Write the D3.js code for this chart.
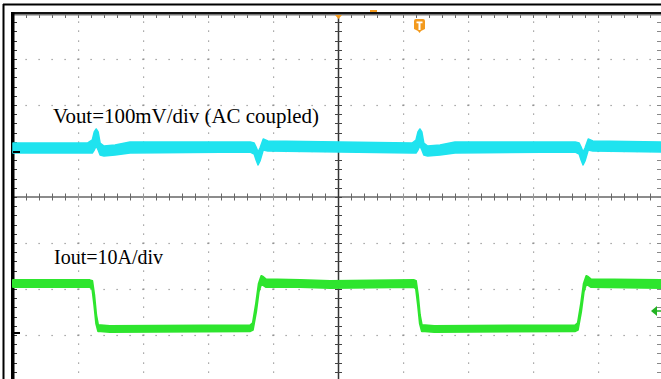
<!DOCTYPE html>
<html><head><meta charset="utf-8">
<script src="https://cdn.jsdelivr.net/npm/d3@7"></script>
<style>html,body{margin:0;padding:0;background:#fff;overflow:hidden}</style>
</head><body>
<svg id="c" width="661" height="379"></svg>
<script>
// ---- data (time in divisions, Vout in mV, Iout in A) ----
const voutTime = [0,1.15,1.22,1.25,1.28,1.31,1.34,1.40,1.57,1.80,3.65,3.71,3.74,3.77,3.80,3.85,3.92,5.03,6.14,6.20,6.23,6.26,6.29,6.32,6.38,6.57,6.80,8.65,8.71,8.74,8.77,8.80,8.85,8.92,9.97];
const voutHigh = [19.6,19.6,26.1,43.5,50.0,43.5,19.6,13.0,15.2,21.7,21.7,19.6,10.9,0,8.7,28.3,23.9,21.7,19.6,26.1,43.5,50.0,43.5,19.6,13.0,15.2,21.7,21.7,19.6,10.9,0,8.7,28.3,23.9,21.7];
const voutLow  = [-2.2,-2.2,-2.2,4.3,13.0,4.3,-6.5,-8.7,-6.5,-2.2,0,-4.3,-17.4,-28.3,-19.6,4.3,2.2,0,-2.2,-2.2,4.3,13.0,4.3,-6.5,-8.7,-6.5,-2.2,0,-4.3,-17.4,-28.3,-19.6,4.3,2.2,0];

const ioutTime = [0,1.18,1.22,1.25,1.28,1.31,1.35,1.49,3.65,3.69,3.74,3.78,3.82,3.85,3.89,4.42,4.88,6.17,6.20,6.23,6.26,6.29,6.34,6.48,8.65,8.69,8.74,8.78,8.82,8.85,8.89,9.97];
const ioutHigh = [11.5,11.5,11.3,8.3,3.9,1.7,1.7,1.5,1.7,2.2,6.5,10.7,12.4,12.2,11.7,11.5,11.3,11.5,11.3,8.3,3.9,1.7,1.7,1.5,1.7,2.2,6.5,10.7,12.4,12.2,11.7,11.5];
const ioutLow  = [10.0,10.0,9.6,6.1,2.0,0.4,0.4,0.2,0.4,0.7,4.6,8.9,10.7,10.4,10.0,10.0,9.8,10.0,9.6,6.1,2.0,0.4,0.4,0.2,0.4,0.7,4.6,8.9,10.7,10.4,10.0,9.8];

const traceLabels = ["Vout=100mV/div (AC coupled)", "Iout=10A/div"];
const xDivs = 10, yDivs = 8;

// ---- layout ----
const svg = d3.select("#c");
const L = 13, T = 13, DX = 65, DY = 46;
const x = d3.scaleLinear().domain([0, xDivs]).range([L, L + DX * xDivs]);
const yDiv = d3.scaleLinear().domain([yDivs / 2, -yDivs / 2]).range([T, T + DY * yDivs]);
const yV = d3.scaleLinear().domain([0, 100]).range([152, 152 - DY]);
const yI = d3.scaleLinear().domain([0, 10]).range([333, 333 - DY]);

// outer frame
svg.append("line").attr("x1", 3).attr("x2", 661).attr("y1", 4.5).attr("y2", 4.5).attr("stroke", "#000").attr("stroke-width", 2);
svg.append("line").attr("x1", 3.5).attr("x2", 3.5).attr("y1", 4).attr("y2", 379).attr("stroke", "#000").attr("stroke-width", 2);

const g = svg.append("g");
const grid = g.append("g");
const cx = x(xDivs / 2), cy = yDiv(0);

// dotted vertical grid lines
d3.range(1, xDivs + 1).forEach(i => {
  if (i === xDivs / 2) return;
  const px = Math.round(x(i)) + 0.5;
  d3.range(1, yDivs * 5).forEach(j => {
    const py = yDiv(yDivs / 2 - j / 5);
    const major = j % 5 === 0;
    grid.append("rect").attr("x", px - (major ? 1 : 0.5)).attr("y", Math.round(py) - 0.5)
      .attr("width", major ? 2 : 1.2).attr("height", 1.2).attr("fill", "#8a8a8a");
  });
});
// dotted horizontal grid lines
d3.range(1, yDivs).forEach(j => {
  if (j === yDivs / 2) return;
  const py = Math.round(yDiv(yDivs / 2 - j)) + 0.5;
  d3.range(1, xDivs * 5).forEach(i => {
    const px = x(i / 5);
    grid.append("rect").attr("x", Math.round(px) - 0.5).attr("y", py - 0.6)
      .attr("width", 1.2).attr("height", 1.2).attr("fill", "#8a8a8a");
  });
});
// center horizontal axis
grid.append("line").attr("x1", L).attr("x2", 661).attr("y1", cy).attr("y2", cy).attr("stroke", "#8c8c8c").attr("stroke-width", 2);
d3.range(1, xDivs * 5).forEach(i => {
  const px = Math.round(x(i / 5)) + 0.5;
  grid.append("line").attr("x1", px).attr("x2", px).attr("y1", cy - 3.5).attr("y2", cy + 3.5)
    .attr("stroke", i % 5 === 0 ? "#999" : "#666").attr("stroke-width", 1);
});
// center vertical axis
grid.append("line").attr("x1", cx + 0.5).attr("x2", cx + 0.5).attr("y1", T).attr("y2", 379).attr("stroke", "#333").attr("stroke-width", 1.5);
d3.range(1, yDivs * 5).forEach(j => {
  const py = Math.round(yDiv(yDivs / 2 - j / 5)) + 0.5;
  grid.append("line").attr("x1", cx - 3).attr("x2", cx + 4).attr("y1", py).attr("y2", py)
    .attr("stroke", "#444").attr("stroke-width", 1);
});
// left border ticks and right edge ticks
d3.range(1, yDivs * 5).forEach(j => {
  const py = Math.round(yDiv(yDivs / 2 - j / 5)) + 0.5;
  grid.append("line").attr("x1", L).attr("x2", L + 4).attr("y1", py).attr("y2", py).attr("stroke", "#333").attr("stroke-width", 1);
  grid.append("line").attr("x1", 657).attr("x2", 661).attr("y1", py).attr("y2", py).attr("stroke", "#888").attr("stroke-width", 1);
});
// top border ticks
d3.range(1, xDivs * 5).forEach(i => {
  const px = Math.round(x(i / 5)) + 0.5;
  grid.append("line").attr("x1", px).attr("x2", px).attr("y1", T + 2).attr("y2", T + 5).attr("stroke", "#666").attr("stroke-width", 1);
});

// plot borders
g.append("rect").attr("x", 11).attr("y", 12).attr("width", 650).attr("height", 2).attr("fill", "#111");
g.append("rect").attr("x", 11).attr("y", 14).attr("width", 650).attr("height", 1.5).attr("fill", "#777");
g.append("rect").attr("x", 11).attr("y", 12).attr("width", 3.5).attr("height", 367).attr("fill", "#000");

// traces
const vArea = d3.area().x((d, i) => x(voutTime[i])).y0((d, i) => yV(voutLow[i])).y1((d, i) => yV(voutHigh[i])).curve(d3.curveLinear);
g.append("path").attr("d", vArea(voutTime)).attr("fill", "#1fe3ef").attr("stroke", "#1fe3ef").attr("stroke-width", 1.5).attr("stroke-linejoin", "round");
const iArea = d3.area().x((d, i) => x(ioutTime[i])).y0((d, i) => yI(ioutLow[i])).y1((d, i) => yI(ioutHigh[i])).curve(d3.curveLinear);
g.append("path").attr("d", iArea(ioutTime)).attr("fill", "#2ee52e").attr("stroke", "#2ee52e").attr("stroke-width", 2).attr("stroke-linejoin", "round");

// channel ground markers
g.append("rect").attr("x", 13).attr("y", yV(0) - 1).attr("width", 7).attr("height", 2).attr("fill", "#000");
g.append("rect").attr("x", 13).attr("y", yI(0) - 1).attr("width", 7).attr("height", 2).attr("fill", "#000");

// green trigger level arrow on right
g.append("path").attr("d", "M651,311 L657,306 L657,316 Z").attr("fill", "#22b322");
g.append("line").attr("x1", 657).attr("x2", 661).attr("y1", 311).attr("y2", 311).attr("stroke", "#22b322").attr("stroke-width", 1.5);

// orange markers
g.append("path").attr("d", `M${cx - 3},15 L${cx + 4},15 L${cx + 0.5},19 Z`).attr("fill", "#f39a1e");
g.append("rect").attr("x", 370).attr("y", 10).attr("width", 7).attr("height", 2).attr("fill", "#f39a1e");
const tg = g.append("g").attr("transform", "translate(414,19)");
tg.append("path").attr("d", "M2,0 H9 Q11,0 11,2 V10 L7,12 L5.5,14 L4,12 L0,10 V2 Q0,0 2,0 Z").attr("fill", "#f39a1e");
tg.append("path").attr("d", "M2.5,2.5 H8.5 V4.3 H6.5 V11 H4.5 V4.3 H2.5 Z").attr("fill", "#fff");

// labels
const lbl = g.append("g").attr("font-family", "'Liberation Serif','Times New Roman',serif").attr("font-size", 20).attr("fill", "#000");
lbl.append("text").attr("x", 53).attr("y", 123).attr("textLength", 266).attr("lengthAdjust", "spacingAndGlyphs").text(traceLabels[0]);
lbl.append("text").attr("x", 54).attr("y", 264).text(traceLabels[1]);
</script>
</body></html>
